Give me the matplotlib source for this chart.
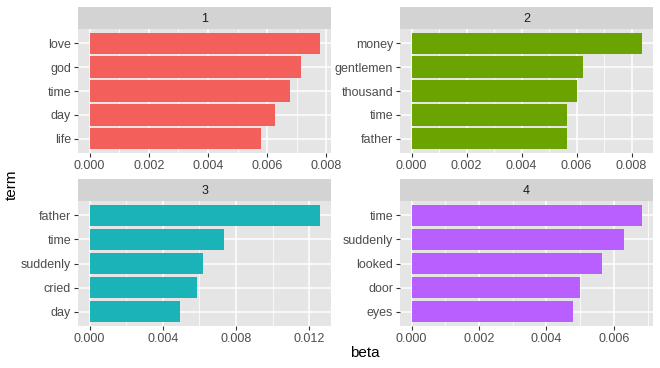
import matplotlib
matplotlib.use("Agg")
import matplotlib.pyplot as plt
import numpy as np

plt.rcParams["font.family"] = ["Liberation Sans", "DejaVu Sans"]

# top terms per topic (listed bottom -> top)
topics = ["1", "2", "3", "4"]
terms = [
    ["life", "day", "time", "god", "love"],
    ["father", "time", "thousand", "gentlemen", "money"],
    ["day", "cried", "suddenly", "time", "father"],
    ["eyes", "door", "looked", "suddenly", "time"],
]
betas = [
    [0.00578, 0.00625, 0.00676, 0.00713, 0.00777],
    [0.00564, 0.00564, 0.00603, 0.00624, 0.00836],
    [0.00496, 0.00584, 0.00622, 0.00736, 0.01255],
    [0.00478, 0.00501, 0.00564, 0.00629, 0.00682],
]
tick_steps = [0.002, 0.002, 0.004, 0.002]
colors = ["#F35F5B", "#6BA300", "#19B3B8", "#B95EFF"]

W, H = 660, 368
fig = plt.figure(figsize=(W / 100, H / 100), dpi=100)
fig.patch.set_facecolor("white")

# pixel boxes: (left, right, strip_top, panel_top, panel_bottom)
boxes = [
    (78, 331, 7, 29, 153),
    (400, 653, 7, 29, 153),
    (78, 331, 179, 201, 326),
    (400, 653, 179, 201, 326),
]


def px(l, r, t, b):
    return [l / W, 1 - b / H, (r - l) / W, (b - t) / H]


for i, (l, r, st, pt, pb) in enumerate(boxes):
    # strip
    sax = fig.add_axes(px(l, r, st, pt))
    sax.set_facecolor("#D3D3D3")
    sax.set_xticks([])
    sax.set_yticks([])
    for s in sax.spines.values():
        s.set_visible(False)
    sax.text(0.5, 0.47, topics[i], ha="center", va="center",
             fontsize=9, color="#1A1A1A", transform=sax.transAxes)

    ax = fig.add_axes(px(l, r, pt, pb))
    ax.set_facecolor("#E5E5E5")
    for s in ax.spines.values():
        s.set_visible(False)
    vals = betas[i]
    y = np.arange(1, len(vals) + 1)
    mx = max(vals)
    step = tick_steps[i]
    ticks = np.arange(0, mx * 1.05 + 1e-12, step)
    minors = ticks[:-1] + step / 2
    if ticks[-1] + step / 2 <= mx * 1.05:
        minors = np.append(minors, ticks[-1] + step / 2)
    for m in minors:
        ax.axvline(m, color="white", lw=0.55, zorder=0)
    for t in ticks:
        ax.axvline(t, color="white", lw=1.1, zorder=0)
    for yy in y:
        ax.axhline(yy, color="white", lw=1.1, zorder=0)
    ax.barh(y, vals, height=0.9, color=colors[i], zorder=2)
    ax.set_xlim(-0.05 * mx, 1.05 * mx)
    ax.set_ylim(0.4, len(vals) + 0.6)
    ax.set_xticks(ticks)
    ax.set_xticklabels([f"{t:.3f}" for t in ticks])
    ax.set_yticks(y)
    ax.set_yticklabels(terms[i])
    ax.tick_params(axis="both", labelsize=9, colors="#333333",
                   labelcolor="#4D4D4D", length=3, width=0.8, pad=2)

fig.text(365 / W, 1 - 353 / H, "beta", ha="center", va="center",
         fontsize=11, color="black")
fig.text(12 / W, 1 - 185 / H, "term", ha="center", va="center",
         fontsize=11, color="black", rotation=90)

fig.savefig("out.png", dpi=100)
